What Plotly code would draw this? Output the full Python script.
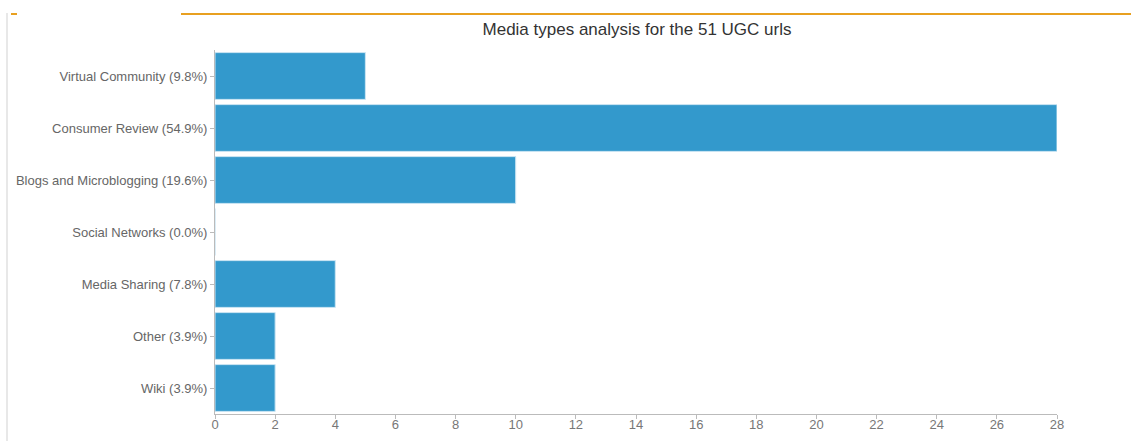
import plotly.graph_objects as go

categories = ["Virtual Community (9.8%)", "Consumer Review (54.9%)", "Blogs and Microblogging (19.6%)",
              "Social Networks (0.0%)", "Media Sharing (7.8%)", "Other (3.9%)", "Wiki (3.9%)"]
values = [5, 28, 10, 0, 4, 2, 2]
x_ticks = list(range(0, 29, 2))
title = "Media types analysis for the 51 UGC urls"

W, H = 1131, 441
L, R, T, B = 215, 74, 50, 27
pw, ph = W - L - R, H - T - B

def px(x):
    return (x - L) / pw

def py(y):
    return (H - B - y) / ph

fig = go.Figure(go.Bar(
    x=values, y=categories, orientation="h",
    marker=dict(color="#3399cc", line=dict(color="#cde6f3", width=1)),
    hoverinfo="x+y",
))

fig.update_layout(
    width=W, height=H,
    margin=dict(l=L, r=R, t=T, b=B),
    paper_bgcolor="white", plot_bgcolor="white",
    font=dict(family="Liberation Sans", size=13, color="#666"),
    title=dict(text=title, x=637 / W, xanchor="center", y=1 - 29 / H, yanchor="middle",
               font=dict(size=17, color="#333")),
    bargap=0.1,
    showlegend=False,
    xaxis=dict(range=[0, 28], tickvals=x_ticks, showgrid=False, zeroline=False, automargin=False,
               showline=True, linecolor="#bbb", linewidth=1,
               ticks="outside", ticklen=4, tickcolor="#bbb", ticklabelstandoff=-6,
               tickfont=dict(size=13, color="#777")),
    yaxis=dict(categoryorder="array", categoryarray=categories[::-1], automargin=False,
               showgrid=False, zeroline=False, showline=True, linecolor="#bbb", linewidth=1,
               ticks="outside", ticklen=4, tickcolor="#bbb",
               tickfont=dict(size=13, color="#666")),
    shapes=[
        dict(type="line", xref="paper", yref="paper", x0=px(181), x1=px(1131), y0=py(14), y1=py(14),
             line=dict(color="#e8a020", width=2)),
        dict(type="line", xref="paper", yref="paper", x0=px(11), x1=px(17), y0=py(14), y1=py(14),
             line=dict(color="#e8a020", width=2)),
        dict(type="line", xref="paper", yref="paper", x0=px(7), x1=px(7), y0=py(13), y1=py(441),
             line=dict(color="#e8e8e8", width=2)),
    ],
)

fig.write_html("out.html")
